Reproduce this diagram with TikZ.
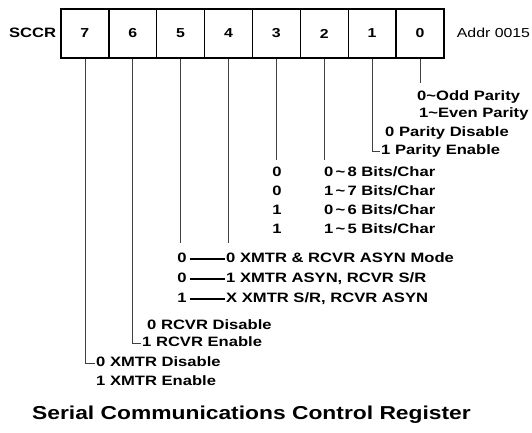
\documentclass[tikz,border=0pt]{standalone}
\usepackage{fontspec}
\setmainfont{Liberation Sans}[FakeStretch=1.22]
\usetikzlibrary{positioning}

\begin{document}
\begin{tikzpicture}[x=1pt, y=-1pt,
    cell/.style={draw, line width=1.4pt, minimum width=47.9pt,
                 minimum height=49pt, inner sep=0pt,
                 font=\fontsize{13}{13}\selectfont\bfseries},
    lbl/.style={anchor=west, inner sep=1pt, text height=9pt, text depth=2pt,
                font=\fontsize{13.6}{13.6}\selectfont\bfseries},
    lead/.style={line width=0.8pt, black!75},
    bar/.style={line width=1.3pt},
    node distance=4pt
  ]
  \useasboundingbox (0,0) rectangle (532,432);

  % Register
  \foreach \b [count=\i from 0] in {7,6,...,0}
    \node[cell] (b\b) at (84.9+47.875*\i, 33.5) {\b};
  \node[lbl, left=3pt of b7] (sccr) {SCCR};
  \node[lbl, right=11pt of b0, font=\fontsize{13}{13}\selectfont] (addr) {Addr 0015};

  % Bit 0
  \node[lbl] (odd)  at (416,97)  {0\textasciitilde Odd Parity};
  \node[lbl] (even) at (418,114) {1\textasciitilde Even Parity};
  \draw[lead, shorten >=7pt] (b0.south) -- (b0.south |- odd.north);

  % Bit 1
  \node[lbl] (pdis) at (384,133) {0 Parity Disable};
  \node[lbl] (pen)  at (380,151) {1 Parity Enable};
  \draw[lead] (b1.south) |- (pen.west);

  % Bits 3, 2
  \foreach \row/\lo/\hi/\nb in {0/0/0/8, 1/0/1/7, 2/1/0/6, 3/1/1/5} {
    \node[lbl, anchor=center] (cl\row) at (277, 173+19*\row) {\lo};
    \node[lbl] (cr\row) at (323, 173+19*\row) {\hi\,\textasciitilde\,\nb\ Bits/Char};
  }
  \draw[lead, shorten >=6pt] (b3.south) -- (b3.south |- cl0.north);
  \draw[lead, shorten >=6pt] (b2.south) -- (b2.south |- cr0.north);

  % Bits 5, 4
  \foreach \row/\lo/\txt in {0/0/{0 XMTR \& RCVR ASYN Mode},
                             1/0/{1 XMTR ASYN, RCVR S/R},
                             2/1/{X XMTR S/R, RCVR ASYN}} {
    \node[lbl, anchor=center] (ml\row) at (182, 259+20*\row) {\lo};
    \node[lbl] (mr\row) at (225, 259+20*\row) {\txt};
    \draw[bar, shorten <=2pt] (ml\row.east) -- (mr\row.west);
  }
  \draw[lead, shorten >=9pt] (b5.south) -- (b5.south |- ml0.north);
  \draw[lead, shorten >=9pt] (b4.south) -- (b4.south |- mr0.north);

  % Bit 6
  \node[lbl] (rdis) at (146,326) {0 RCVR Disable};
  \node[lbl] (ren)  at (141,343) {1 RCVR Enable};
  \draw[lead] (b6.south) |- (ren.west);

  % Bit 7
  \node[lbl] (xdis) at (95,363) {0 XMTR Disable};
  \node[lbl] (xen)  at (95,382) {1 XMTR Enable};
  \draw[lead] (b7.south) |- (xdis.west);

  \node[inner sep=0pt, font=\fontsize{18.7}{18.7}\selectfont\bfseries] (title)
    at (251.5,415) {Serial Communications Control Register};
\end{tikzpicture}
\end{document}
